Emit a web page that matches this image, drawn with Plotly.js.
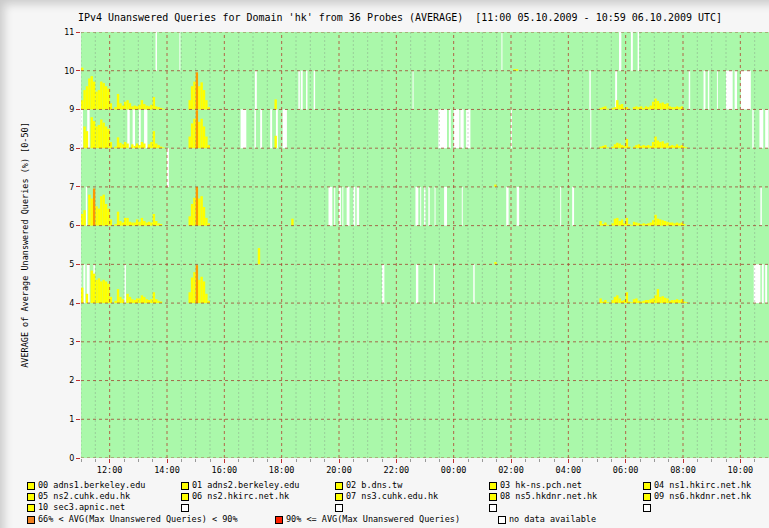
<!DOCTYPE html>
<html><head><meta charset="utf-8">
<script src="https://cdn.plot.ly/plotly-3.0.1.min.js"></script>
<style>
html,body{margin:0;padding:0;background:#f6f6f6;}
#wrap{position:relative;width:769px;height:528px;overflow:hidden;background:#f6f6f6;}
#chart{position:absolute;left:0;top:0;width:769px;height:528px;}
.sq{position:absolute;width:6px;height:6px;border:1px solid #000;box-sizing:content-box;}
.lt{position:absolute;font-family:'DejaVu Sans Mono',monospace;font-size:8.5px;line-height:10px;white-space:pre;color:#000;}
#shade{position:absolute;left:0;top:0;width:769px;height:528px;pointer-events:none;box-shadow:inset 10px 10px 10px -6px rgba(0,0,0,0.18);}
</style></head>
<body><div id="wrap"><div id="chart"></div><div id="legend"></div><div id="shade"></div></div>
<script>
// ---------------- data ----------------
const chartTitle = "IPv4 Unanswered Queries for Domain 'hk' from 36 Probes (AVERAGE)\u00a0\u00a0[11:00 05.10.2009 - 10:59 06.10.2009 UTC]";
const yTitle = "AVERAGE of Average Unanswered Queries (%) [0-50]";
const servers = ["00 adns1.berkeley.edu","01 adns2.berkeley.edu","02 b.dns.tw","03 hk-ns.pch.net","04 ns1.hkirc.net.hk",
                 "05 ns2.cuhk.edu.hk","06 ns2.hkirc.net.hk","07 ns3.cuhk.edu.hk","08 ns5.hkdnr.net.hk","09 ns6.hkdnr.net.hk","10 sec3.apnic.net"];
const levelLabels = ["66% < AVG(Max Unanswered Queries) < 90%","90% <= AVG(Max Unanswered Queries)","no data available"];
const yTicks = [0,1,2,3,4,5,6,7,8,9,10,11];

// unanswered % per 5-minute bin, as runs: [first bin start "HH:MM", values...]
const s10_runs = [["11:00",[4]],["02:05",[2,2]]];
const s09_runs = [
  ["11:00",[12,25,30,40,43,36,23,25,36,34,30,27,8]],
  ["12:10",[3,20,8,5,10,12,8,4,5,4,6,12,7,5,4,6,16,4,3,2,1]],
  ["14:45",[12,30,36,0,30,35,25,12,3]],
  ["17:45",[13]],
  ["05:05",[2,3,4,1,0,2,3,12,6,7,2,3,1,0,3,4,3,4,2,4,3,5,10,14,11,8,9,7,8,4,3,3,4,3,4,1]]
];
const s08_runs = [
  ["11:05",[28,22,0,40,35,28,30,37,33,28,25,8]],
  ["12:10",[2,14,7,5,8,6,0,5,3,6,4,8,6,0,5,8,22,6,4,2,1]],
  ["14:45",[15,32,38,0,34,38,28,15,4]],
  ["17:45",[16]],
  ["05:05",[2,3,4,1,0,2,5,7,6,4,3,12,2,0,2,4,5,3,4,3,4,3,8,15,10,8,9,6,7,3,4,3,5,3,4,2,1]]
];
const s07_runs = [["01:25",[3]]];
const s06_runs = [
  ["11:00",[15,20,0,40,35,0,25,22,38,40,28,22,8]],
  ["12:10",[2,18,6,4,10,10,5,4,4,8,5,10,6,4,5,4,15,6,3,2]],
  ["14:45",[12,28,36,0,35,38,24,10,3]],
  ["18:20",[9]],
  ["05:05",[6,2,4,1,0,3,9,10,6,8,3,10,2,1,5,4,3,2,3,2,3,4,7,14,9,8,7,6,5,4,4,3,4,3,4,2]]
];
const s05_runs = [["17:10",[21]],["01:25",[3]]];
const s04_runs = [
  ["11:00",[20,0,12,0,42,38,30,32,28,30,28,25,8]],
  ["12:10",[3,18,8,5,0,12,8,5,4,6,6,10,8,5,4,5,14,5,3,2]],
  ["14:45",[14,33,40,0,30,34,28,12,3]],
  ["05:05",[6,2,4,1,0,4,8,10,6,3,4,14,2,1,5,6,3,2,3,4,4,5,6,10,18,8,9,7,6,3,4,4,5,4,5,2,1]]
];
// bins where 66% < AVG(max unanswered) < 90%: ["HH:MM", value %]
const s09_hi = [["15:00",48]];
const s08_hi = [["15:00",49]];
const s06_hi = [["11:25",48],["15:00",50]];
const s04_hi = [["15:00",49]];
// no data available: [from, to]
const s10_gaps = [["13:36","13:39"],["14:26","14:28"],["01:40","01:42"],["05:46","05:51"],["06:11","06:15"],["06:25","06:28"]];
const s09_gaps = [["17:04","17:08"],["18:35","18:38"],["18:40","18:44"],["18:51","18:54"],["19:07","19:10"],["22:34","22:36"],
  ["04:44","04:47"],["05:38","05:42"],["08:12","08:15"],["08:43","08:47"],["08:52","08:55"],["09:11","09:13"],
  ["09:30","09:44"],["09:48","09:53"],["10:01","10:22"]];
const s08_gaps = [["11:00","11:04"],["11:13","11:18"],["12:37","12:42"],["12:48","12:53"],["13:01","13:05"],["13:12","13:19"],
  ["16:34","16:46"],["17:03","17:06"],["17:15","17:19"],["17:36","17:40"],["17:48","17:52"],["18:02","18:11"],
  ["23:28","23:46"],["23:50","23:54"],["00:00","00:12"],["00:14","00:21"],["00:26","00:35"],["02:00","02:02"],
  ["04:46","04:48"],["10:25","10:28"],["10:40","10:48"],["10:52","10:59"]];
const s07_gaps = [["14:00","14:04"]];
const s06_gaps = [["11:10","11:13"],["19:38","19:46"],["19:50","19:52"],["20:00","20:04"],["20:07","20:09"],["20:16","20:22"],
  ["20:30","20:34"],["20:37","20:42"],["22:40","22:46"],["22:50","22:52"],["22:58","23:01"],["23:07","23:10"],
  ["23:20","23:22"],["23:40","23:46"],["00:17","00:19"],["01:50","01:55"],["02:12","02:17"],["03:43","03:45"],
  ["04:08","04:12"],["10:42","10:45"]];
const s04_gaps = [["11:00","11:01"],["11:05","11:09"],["11:12","11:18"],["11:26","11:29"],["12:31","12:34"],["21:30","21:35"],
  ["22:41","22:46"],["23:18","23:21"],["00:41","00:44"],["10:28","10:42"],["10:45","10:49"],["10:52","10:56"]];

// ---------------- build ----------------
const runsBy = {10:s10_runs,9:s09_runs,8:s08_runs,7:s07_runs,6:s06_runs,5:s05_runs,4:s04_runs};
const hiBy = {9:s09_hi,8:s08_hi,6:s06_hi,4:s04_hi};
const gapsBy = {10:s10_gaps,9:s09_gaps,8:s08_gaps,7:s07_gaps,6:s06_gaps,4:s04_gaps};
const T0 = Date.UTC(2009,9,5,11,0);
const BIN = 5, BAND = 50;
function hm(s){const [h,m]=s.split(':').map(Number);let t=h*60+m-660;if(t<0)t+=1440;return t;}
function ds(t){const d=new Date(T0+t*60000);const p=n=>String(n).padStart(2,'0');
  return d.getUTCFullYear()+'-'+p(d.getUTCMonth()+1)+'-'+p(d.getUTCDate())+' '+p(d.getUTCHours())+':'+p(d.getUTCMinutes());}

const gx=[],gw=[],gb=[]; const yx=[],yy=[],yb=[]; const ox=[],oy=[],ob=[];
for(const k in gapsBy){for(const [a,b] of gapsBy[k]){const s=hm(a),e=hm(b);gx.push(ds(s));gw.push((e-s)*60000);gb.push(+k);}}
for(const k in runsBy){for(const [st,vals] of runsBy[k]){const s=hm(st);vals.forEach((v,i)=>{if(v>0){yx.push(ds(s+i*BIN));yy.push(v/BAND);yb.push(+k);}});}}
for(const k in hiBy){for(const [st,v] of hiBy[k]){ox.push(ds(hm(st)));oy.push(v/BAND);ob.push(+k);}}

const traces = [
  {type:'bar',x:gx,y:gx.map(()=>1),base:gb,width:gw,offset:0,marker:{color:'#ffffff',line:{width:0}},hoverinfo:'skip',showlegend:false},
  {type:'bar',x:yx,y:yy,base:yb,width:BIN*60000,offset:0,marker:{color:'#ffff00',line:{width:0}},showlegend:false},
  {type:'bar',x:ox,y:oy,base:ob,width:BIN*60000,offset:0,marker:{color:'#ff9900',line:{width:0}},showlegend:false}
];

const shapes=[];
for(let m=0;m<1440;m+=30){const major=(m-60)%120===0;
  shapes.push({type:'line',layer:'above',xref:'x',yref:'y',x0:ds(m),x1:ds(m),y0:0,y1:11,
    line:{color:major?'rgba(180,40,30,0.7)':'rgba(120,120,120,0.32)',width:1,dash:major?'dot':'2px,2px'}});}
for(const k of yTicks){shapes.push({type:'line',layer:'above',xref:'paper',yref:'y',x0:0,x1:1,y0:k,y1:k,
    line:{color:'rgba(160,70,50,0.8)',width:1,dash:'dot'}});}

const mono="'DejaVu Sans Mono', monospace";
const layout = {
  width:769,height:528,margin:{l:81,r:0,t:32,b:70},
  paper_bgcolor:'rgba(0,0,0,0)',plot_bgcolor:'#aaf8aa',
  barmode:'overlay',showlegend:false,
  title:{text:chartTitle,font:{family:mono,size:10,color:'#000'},x:400/769,xanchor:'center',xref:'container',y:1-17/528,yanchor:'middle',yref:'container'},
  xaxis:{type:'date',range:[ds(0),ds(1440)],tickformat:'%H:%M',tick0:ds(60),dtick:7200000,showgrid:false,zeroline:false,
    ticks:'outside',ticklen:4,tickcolor:'#c03030',tickfont:{family:mono,size:8.5,color:'#000'},fixedrange:true,
    minor:{dtick:1800000,ticks:'outside',ticklen:3,tickcolor:'#999',showgrid:false}},
  yaxis:{range:[0,11],tickvals:yTicks,showgrid:false,zeroline:false,ticks:'outside',ticklen:4,tickcolor:'#c03030',
    tickfont:{family:"'DejaVu Sans', sans-serif",size:8,color:'#000'},
    title:{text:yTitle,font:{family:mono,size:8.5,color:'#000'},standoff:34}},
  shapes:shapes
};
Plotly.newPlot('chart',traces,layout,{staticPlot:true});

// ---------------- legend ----------------
const leg=document.getElementById('legend');
const colX=[27,181,335,489,643], rowY=[482,493,504];
function item(x,y,color,text){const s=document.createElement('div');s.className='sq';s.style.left=x+'px';s.style.top=y+'px';s.style.background=color;leg.appendChild(s);
  if(text){const t=document.createElement('div');t.className='lt';t.style.left=(x+11)+'px';t.style.top=(y-2)+'px';t.textContent=text;leg.appendChild(t);}}
for(let i=0;i<15;i++){const r=Math.floor(i/5),c=i%5;item(colX[c],rowY[r],i<servers.length?'#ffff00':'#ffffff',i<servers.length?servers[i]:null);}
item(27,516,'#f08020',levelLabels[0]);
item(275,516,'#ff2000',levelLabels[1]);
item(498,516,'#ffffff',levelLabels[2]);
</script></body></html>
